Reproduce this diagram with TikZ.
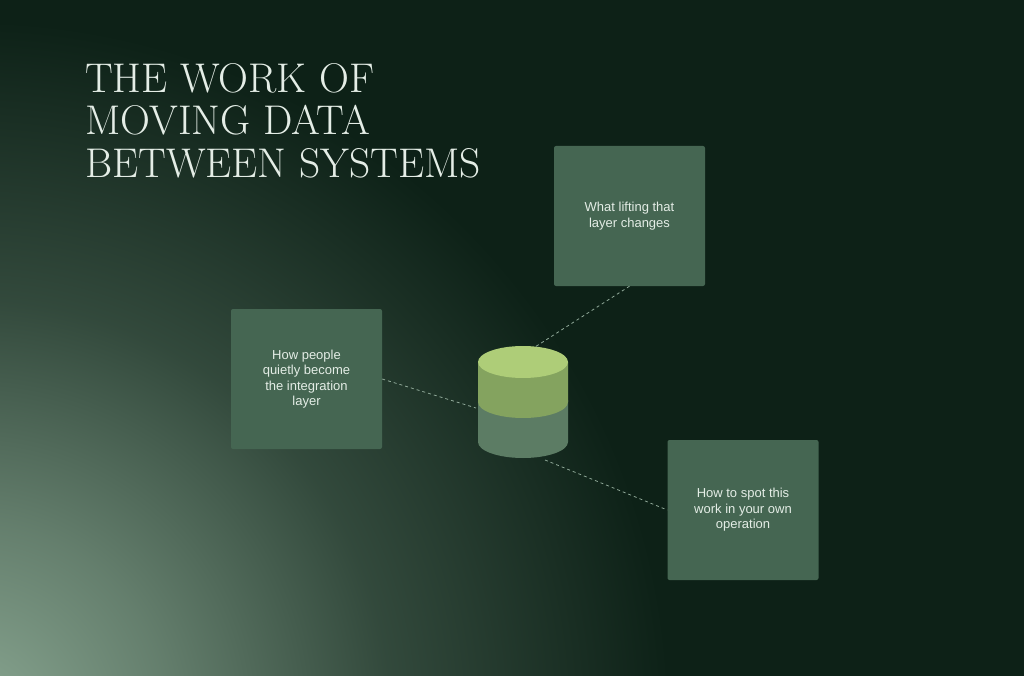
\documentclass[tikz,border=0pt]{standalone}
\usepackage{fontspec}
\setsansfont{Liberation Sans}
\definecolor{bg}{HTML}{0D2117}
\definecolor{glow}{HTML}{8AA792}
\definecolor{boxc}{HTML}{456652}
\definecolor{txt}{HTML}{E4EDE6}
\definecolor{ctop}{HTML}{AECD78}
\definecolor{cmid}{HTML}{84A35F}
\definecolor{clow}{HTML}{5C7C64}
\definecolor{dash}{HTML}{8FA898}
\pgfdeclareradialshading{myglow}{\pgfpoint{0bp}{0bp}}{color(0bp)=(glow); color(7bp)=(glow!70!bg); color(15bp)=(glow!30!bg); color(25bp)=(bg); color(50bp)=(bg)}
\tikzset{
  box/.style={fill=boxc, rounded corners=2pt, minimum width=151pt, minimum height=140pt, inner sep=0pt, align=center, text=txt, font=\sffamily\fontsize{13}{15.5}\selectfont},
  link/.style={draw=dash, dash pattern=on 3pt off 3pt, line width=0.8pt}
}
\begin{document}
\begin{tikzpicture}[x=1pt,y=-1pt]
\useasboundingbox (0,0) rectangle (1024,676);
\fill[bg] (0,0) rectangle (1024,676);
\begin{scope}
\clip (0,0) rectangle (1024,676);
\shade[shading=myglow] (-30,720) circle (700);
\end{scope}
\node[anchor=north west, text=txt, align=left, inner sep=0pt, font=\fontsize{41.5}{42.5}\selectfont] (title) at (85,63) {THE WORK OF\\MOVING DATA\\BETWEEN SYSTEMS};
\node[box] (b1) at (629.5,216) {What lifting that\\layer changes};
\node[box] (b2) at (306.5,379) {How people\\quietly become\\the integration\\layer};
\node[box] (b3) at (743,510) {How to spot this\\work in your own\\operation};
% cylinder
\coordinate (ct) at (523,362);
\fill[clow] (478,400) -- (478,442) arc[start angle=180,end angle=0,x radius=45,y radius=16] -- (568,400) -- cycle;
\fill[cmid] (478,362) -- (478,402) arc[start angle=180,end angle=0,x radius=45,y radius=16] -- (568,362) -- cycle;
\fill[ctop] (ct) ellipse[x radius=45, y radius=16];
\coordinate (c1) at (535,347);
\coordinate (c2) at (476,408);
\coordinate (c3) at (545,460);
\draw[link] (b1.south) -- (c1);
\draw[link] (b2.east) -- (c2);
\draw[link] (c3) -- (b3.west);
\end{tikzpicture}
\end{document}
